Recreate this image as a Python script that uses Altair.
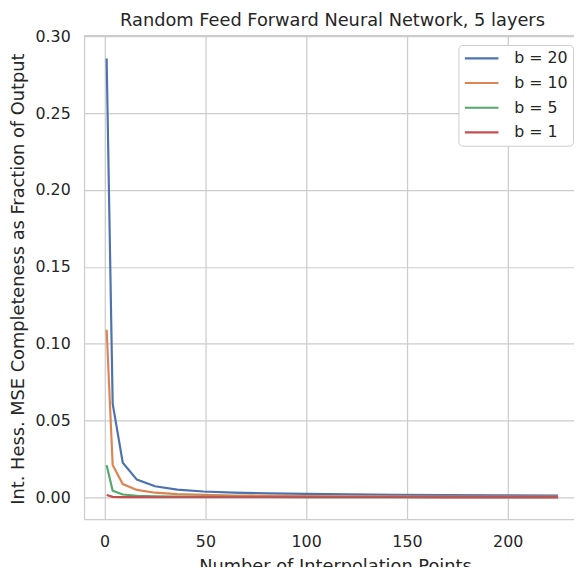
import altair as alt
import pandas as pd

x_points = [1, 4, 9, 16, 25, 36, 49, 64, 81, 100, 121, 144, 169, 196, 225]
series_names = ["b = 20", "b = 10", "b = 5", "b = 1"]
b20 = [0.2855, 0.061, 0.0225, 0.0115, 0.0072, 0.0050, 0.0038, 0.0031, 0.0026, 0.0022, 0.0019, 0.0016, 0.0014, 0.0013, 0.0012]
b10 = [0.109, 0.021, 0.0086, 0.0048, 0.0030, 0.0021, 0.0016, 0.0012, 0.0010, 0.0008, 0.0007, 0.0006, 0.0005, 0.00045, 0.0004]
b5 = [0.0208, 0.0043, 0.0018, 0.0010, 0.0006, 0.0004, 0.0003, 0.00025, 0.0002, 0.00015, 0.00013, 0.00011, 0.0001, 0.00009, 0.00008]
b1 = [0.0015, 0.0003, 0.00012, 0.00007, 0.00005, 0.00004, 0.00003, 0.00003, 0.00002, 0.00002, 0.00002, 0.00002, 0.00001, 0.00001, 0.00001]
colors = ["#4c72b0", "#dd8452", "#55a868", "#c44e52"]
y_ticks = [0.0, 0.05, 0.10, 0.15, 0.20, 0.25, 0.30]
x_ticks = [0, 50, 100, 150, 200]

rows = []
for name, vals in zip(series_names, [b20, b10, b5, b1]):
    for xv, yv in zip(x_points, vals):
        rows.append({"n": xv, "v": yv, "series": name})
df = pd.DataFrame(rows)

W, H = 496, 489
FONT = "DejaVu Sans"
TXT = "#262626"
GRID = "#cccccc"

lines = alt.Chart(df).mark_line(strokeWidth=2.2, clip=True).encode(
    x=alt.X("n:Q", scale=alt.Scale(domain=[-10.2, 232.9], nice=False, zero=False),
            axis=alt.Axis(values=x_ticks, title="Number of Interpolation Points",
                          titleBaseline="alphabetic", titleY=53, titleX=W / 2 + 6,
                          labelPadding=15, labelBaseline="top")),
    y=alt.Y("v:Q", scale=alt.Scale(domain=[-0.0142, 0.3001], nice=False, zero=False),
            axis=alt.Axis(values=y_ticks, format=".2f",
                          title="Int. Hess. MSE Completeness as Fraction of Output",
                          titleBaseline="alphabetic", titleX=-61, titleY=H / 2 + 1,
                          labelPadding=14)),
    color=alt.Color("series:N", scale=alt.Scale(domain=series_names, range=colors),
                    legend=alt.Legend(title=None, orient="none", legendX=379, legendY=9,
                                      symbolType="M-1,0L3.86,0", symbolSize=196,
                                      symbolStrokeWidth=2.2, symbolFillColor="transparent",
                                      labelFontSize=16,
                                      labelColor=TXT, labelFont=FONT, labelOffset=34.5,
                                      padding=5, rowPadding=8,
                                      strokeColor=GRID, fillColor="#ffffff",
                                      cornerRadius=4)),
    order=alt.Order("series_order:Q"),
).transform_calculate(
    series_order="indexof(['b = 20','b = 10','b = 5','b = 1'], datum.series)"
)

top_border = alt.Chart(df).mark_rule(color=GRID, strokeWidth=1.25).encode(
    x=alt.value(0), x2=alt.value(W), y=alt.value(0)
)

chart = alt.layer(lines, top_border).properties(
    width=W, height=H,
    title=alt.Title("Random Feed Forward Neural Network, 5 layers", fontSize=18,
                    font=FONT, fontWeight="normal", color=TXT, anchor="middle",
                    offset=6, dx=3.5, dy=8),
    autosize=alt.AutoSizeParams(type="none"),
    padding={"left": 77, "top": 25, "right": 0, "bottom": 45},
).configure_view(stroke=None).configure_axis(
    labelFont=FONT, labelFontSize=16, labelColor=TXT,
    titleFont=FONT, titleFontSize=18, titleColor=TXT, titleFontWeight="normal",
    grid=True, gridColor=GRID, gridWidth=1.25,
    domain=True, domainColor=GRID, domainWidth=1.25,
    ticks=False, tickSize=0,
)

chart.save("out.html", embed_options={"renderer": "svg", "actions": False})
